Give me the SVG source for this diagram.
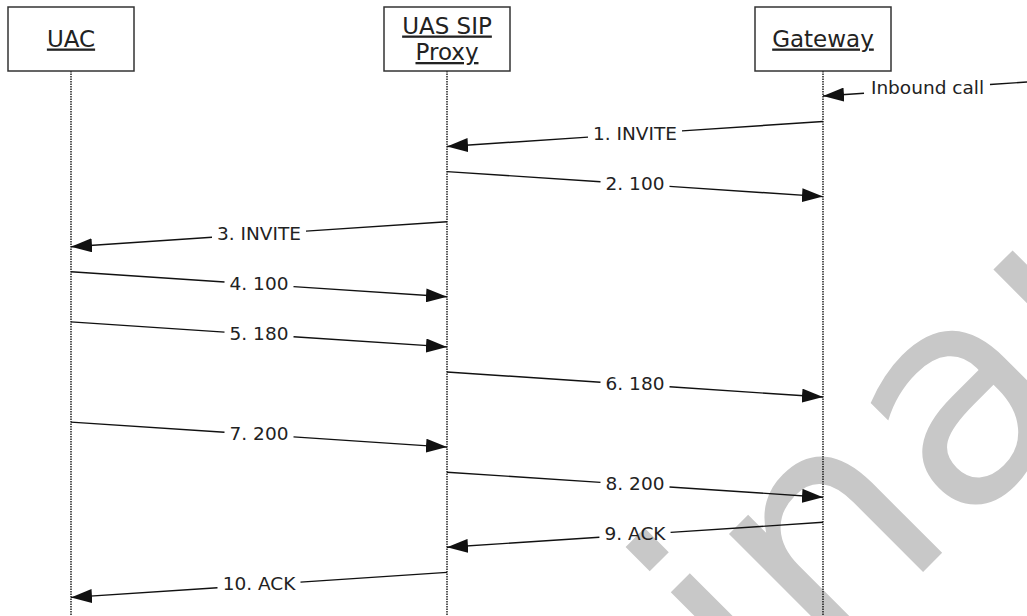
<svg xmlns="http://www.w3.org/2000/svg" width="1027" height="616" viewBox="0 0 1027 616">
  <style>
    .box { fill: #ffffff; stroke: #333333; stroke-width: 1.5; }
    .title { font-family: "DejaVu Sans", Verdana, sans-serif; font-size: 23px; fill: #222222; text-anchor: middle; text-decoration: underline; }
    .life { stroke: #000000; stroke-width: 1.3; stroke-dasharray: 1.5 1; fill: none; }
    .msg { stroke: #111111; stroke-width: 1.4; fill: none; }
    .lbl { font-family: "DejaVu Sans", Verdana, sans-serif; font-size: 18.5px; fill: #222222; text-anchor: middle; }
    .wm { font-family: "DejaVu Sans", Verdana, sans-serif; font-size: 300px; fill: #c8c8c8; }
  </style>
  <defs>
    <marker id="arrow" markerUnits="userSpaceOnUse" markerWidth="21" markerHeight="14" refX="21" refY="7" orient="auto" viewBox="0 0 21 14">
      <path d="M0,0 L21,7 L0,14 z" fill="#111111"/>
    </marker>
  </defs>
  <rect width="1027" height="616" fill="#ffffff"/>
  <text class="wm" transform="translate(105,1390) rotate(-45)">Preliminary</text>

  <g id="lifelines">
    <line class="life" x1="71" y1="71" x2="71" y2="616"/>
    <line class="life" x1="447" y1="71" x2="447" y2="616"/>
    <line class="life" x1="823" y1="71" x2="823" y2="616"/>
  </g>

  <g id="node-uac">
    <rect class="box" x="8" y="7" width="126" height="64"/>
    <text class="title" x="71" y="46.5">UAC</text>
  </g>
  <g id="node-proxy">
    <rect class="box" x="384" y="7" width="126" height="64"/>
    <text class="title" x="447" y="33.5">UAS SIP</text>
    <text class="title" x="447" y="60">Proxy</text>
  </g>
  <g id="node-gateway">
    <rect class="box" x="755" y="7" width="136" height="64"/>
    <text class="title" x="823" y="46.5">Gateway</text>
  </g>

  <g id="connectors">
    <!-- Inbound call -->
    <line class="msg" x1="1027" y1="82" x2="990" y2="84.5"/>
    <line class="msg" x1="864" y1="93.2" x2="823" y2="96" marker-end="url(#arrow)"/>
    <text class="lbl" x="927.5" y="93.5">Inbound call</text>
    <!-- 1 -->
    <line class="msg" x1="823" y1="121.5" x2="682" y2="130.9"/>
    <line class="msg" x1="588" y1="137.1" x2="447" y2="146.5" marker-end="url(#arrow)"/>
    <text class="lbl" x="635" y="139.5">1. INVITE</text>
    <!-- 2 -->
    <line class="msg" x1="447" y1="171.6" x2="600.5" y2="181.8"/>
    <line class="msg" x1="669.5" y1="186.4" x2="823" y2="196.6" marker-end="url(#arrow)"/>
    <text class="lbl" x="635" y="189.6">2. 100</text>
    <!-- 3 -->
    <line class="msg" x1="447" y1="221.7" x2="306" y2="231.1"/>
    <line class="msg" x1="212" y1="237.3" x2="71" y2="246.7" marker-end="url(#arrow)"/>
    <text class="lbl" x="259" y="239.7">3. INVITE</text>
    <!-- 4 -->
    <line class="msg" x1="71" y1="271.8" x2="224.5" y2="282.0"/>
    <line class="msg" x1="293.5" y1="286.6" x2="447" y2="296.8" marker-end="url(#arrow)"/>
    <text class="lbl" x="259" y="289.8">4. 100</text>
    <!-- 5 -->
    <line class="msg" x1="71" y1="321.9" x2="224.5" y2="332.1"/>
    <line class="msg" x1="293.5" y1="336.7" x2="447" y2="346.9" marker-end="url(#arrow)"/>
    <text class="lbl" x="259" y="339.9">5. 180</text>
    <!-- 6 -->
    <line class="msg" x1="447" y1="372" x2="600.5" y2="382.2"/>
    <line class="msg" x1="669.5" y1="386.8" x2="823" y2="397" marker-end="url(#arrow)"/>
    <text class="lbl" x="635" y="390">6. 180</text>
    <!-- 7 -->
    <line class="msg" x1="71" y1="422.1" x2="224.5" y2="432.3"/>
    <line class="msg" x1="293.5" y1="436.9" x2="447" y2="447.1" marker-end="url(#arrow)"/>
    <text class="lbl" x="259" y="440.1">7. 200</text>
    <!-- 8 -->
    <line class="msg" x1="447" y1="472.2" x2="600.5" y2="482.4"/>
    <line class="msg" x1="669.5" y1="487" x2="823" y2="497.2" marker-end="url(#arrow)"/>
    <text class="lbl" x="635" y="490.2">8. 200</text>
    <!-- 9 -->
    <line class="msg" x1="823" y1="522.3" x2="670.6" y2="532.4"/>
    <line class="msg" x1="599.4" y1="537.2" x2="447" y2="547.3" marker-end="url(#arrow)"/>
    <text class="lbl" x="635" y="540.3">9. ACK</text>
    <!-- 10 -->
    <line class="msg" x1="447" y1="572.4" x2="300.5" y2="582.1"/>
    <line class="msg" x1="217.5" y1="587.7" x2="71" y2="597.4" marker-end="url(#arrow)"/>
    <text class="lbl" x="259" y="590.4">10. ACK</text>
  </g>
</svg>
